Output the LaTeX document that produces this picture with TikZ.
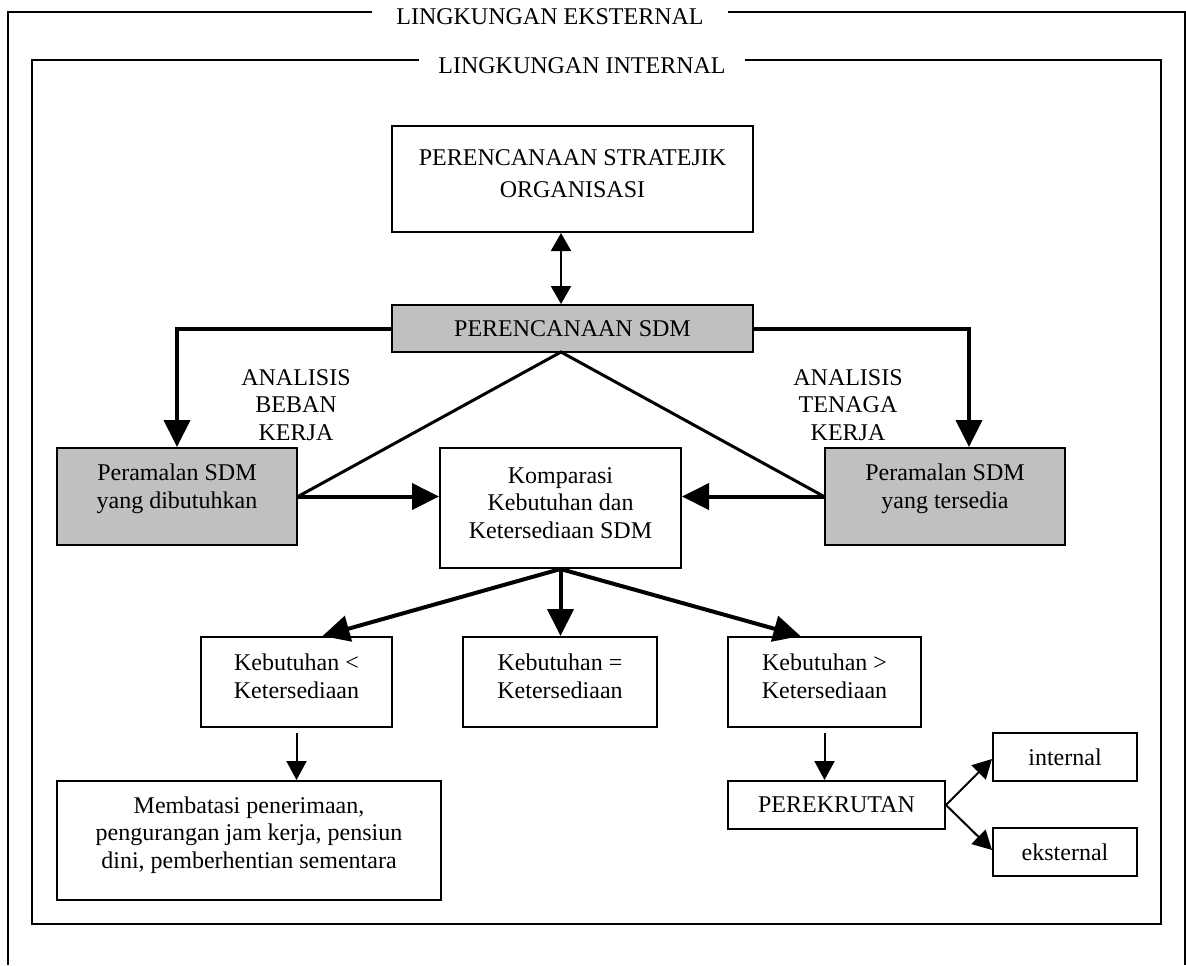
\documentclass[tikz,border=0pt]{standalone}
\usepackage{fontspec}
\setmainfont{Liberation Serif}
\usetikzlibrary{arrows.meta,calc}
\definecolor{boxgray}{RGB}{192,192,192}
\tikzset{
  box/.style={draw=black, line width=1pt, fill=white, align=center, inner sep=0pt, font=\fontsize{12}{13.8}\selectfont},
  graybox/.style={box, fill=boxgray},
  frametitle/.style={fill=white, inner ysep=2pt, font=\fontsize{12}{13.8}\selectfont},
  lbl/.style={align=center, inner sep=0pt, font=\fontsize{12}{13.8}\selectfont},
  thickarrow/.style={line width=2pt, -{Triangle[length=13.5pt,width=13pt]}},
  thinarrow/.style={line width=1pt, -{Triangle[length=9.5pt,width=10pt]}},
  tri/.style={line width=1.5pt},
  frame/.style={line width=1.2pt}
}
\begin{document}
\begin{tikzpicture}[x=0.5pt,y=-0.5pt]
\path[use as bounding box] (0,0) rectangle (1186,965);

% frames
\draw[frame] (8,965) -- (8,12) -- (1185,12) -- (1185,965);
\draw[frame] (32,60) rectangle (1161,924);
\node[frametitle, inner xsep=12pt] (ext) at (550,17) {LINGKUNGAN EKSTERNAL};
\node[frametitle, inner xsep=9.5pt] (intl) at (582,66) {LINGKUNGAN INTERNAL};

% boxes
\node[box, minimum width=180.5pt, minimum height=53pt,
  label={[lbl, font=\fontsize{12}{16}\selectfont, yshift=2.5pt]center:{PERENCANAAN STRATEJIK\\ORGANISASI}}] (strat) at (572.5,179) {};
\node[graybox, minimum width=180.5pt, minimum height=23.5pt] (sdm) at (572.5,328.5) {PERENCANAAN SDM};
\node[graybox, minimum width=120pt, minimum height=48.5pt,
  label={[lbl, yshift=3.75pt]center:{Peramalan SDM\\yang dibutuhkan}}] (pl) at (177,496.5) {};
\node[graybox, minimum width=120pt, minimum height=48.5pt,
  label={[lbl, yshift=3.75pt]center:{Peramalan SDM\\yang tersedia}}] (pr) at (945,496.5) {};
\node[box, minimum width=120.5pt, minimum height=60pt,
  label={[lbl, yshift=2.5pt]center:{Komparasi\\Kebutuhan dan\\Ketersediaan SDM}}] (komp) at (560.5,508) {};
\node[box, minimum width=95.5pt, minimum height=45pt,
  label={[lbl, yshift=2.75pt]center:{Kebutuhan <\\Ketersediaan}}] (k1) at (296.5,682) {};
\node[box, minimum width=97pt, minimum height=45pt,
  label={[lbl, yshift=2.75pt]center:{Kebutuhan =\\Ketersediaan}}] (k2) at (560,682) {};
\node[box, minimum width=96.5pt, minimum height=45pt,
  label={[lbl, yshift=2.75pt]center:{Kebutuhan >\\Ketersediaan}}] (k3) at (824.5,682) {};
\node[box, minimum width=192pt, minimum height=59.5pt,
  label={[lbl, yshift=2.75pt]center:{Membatasi penerimaan,\\pengurangan jam kerja, pensiun\\dini, pemberhentian sementara}}] (mb) at (249,840.5) {};
\node[box, minimum width=108.5pt, minimum height=24pt] (rek) at (836.5,805) {PEREKRUTAN};
\node[box, minimum width=72pt, minimum height=24pt] (int) at (1065,757) {internal};
\node[box, minimum width=72pt, minimum height=24pt] (eks) at (1065,852) {eksternal};

% labels
\node[lbl] (lb) at (296,405) {ANALISIS\\BEBAN\\KERJA};
\node[lbl] (lt) at (848,405) {ANALISIS\\TENAGA\\KERJA};

% connectors
\coordinate (apex) at (561,352);
\draw[line width=1pt, {Triangle[length=9pt,width=10pt]}-{Triangle[length=9pt,width=10pt]}] (strat.south -| apex) -- (sdm.north -| apex);
\draw[thickarrow] (sdm.west) -| (pl.north);
\draw[thickarrow] (sdm.east) -| ($(pr.north)+(24,0)$);
\draw[tri] (pl.east) -- (apex) -- (pr.west);
\draw[thickarrow] (pl.east) -- (komp.west |- pl.east);
\draw[thickarrow] (pr.west) -- (komp.east |- pr.west);
\draw[thickarrow] (komp.south) -- ($(k1.north)+(26,0)$);
\draw[thickarrow] (komp.south) -- (k2.north -| komp.south);
\draw[thickarrow] (komp.south) -- ($(k3.north)+(-24,0)$);
\draw[thinarrow] ($(k1.south)+(0,5)$) -- (k1.south |- mb.north);
\draw[thinarrow] ($(k3.south)+(0,5)$) -- (k3.south |- rek.north);
\draw[thinarrow] (rek.east) -- ($(int.west)+(0,2)$);
\draw[thinarrow] (rek.east) -- ($(eks.west)+(0,-2)$);
\end{tikzpicture}
\end{document}
